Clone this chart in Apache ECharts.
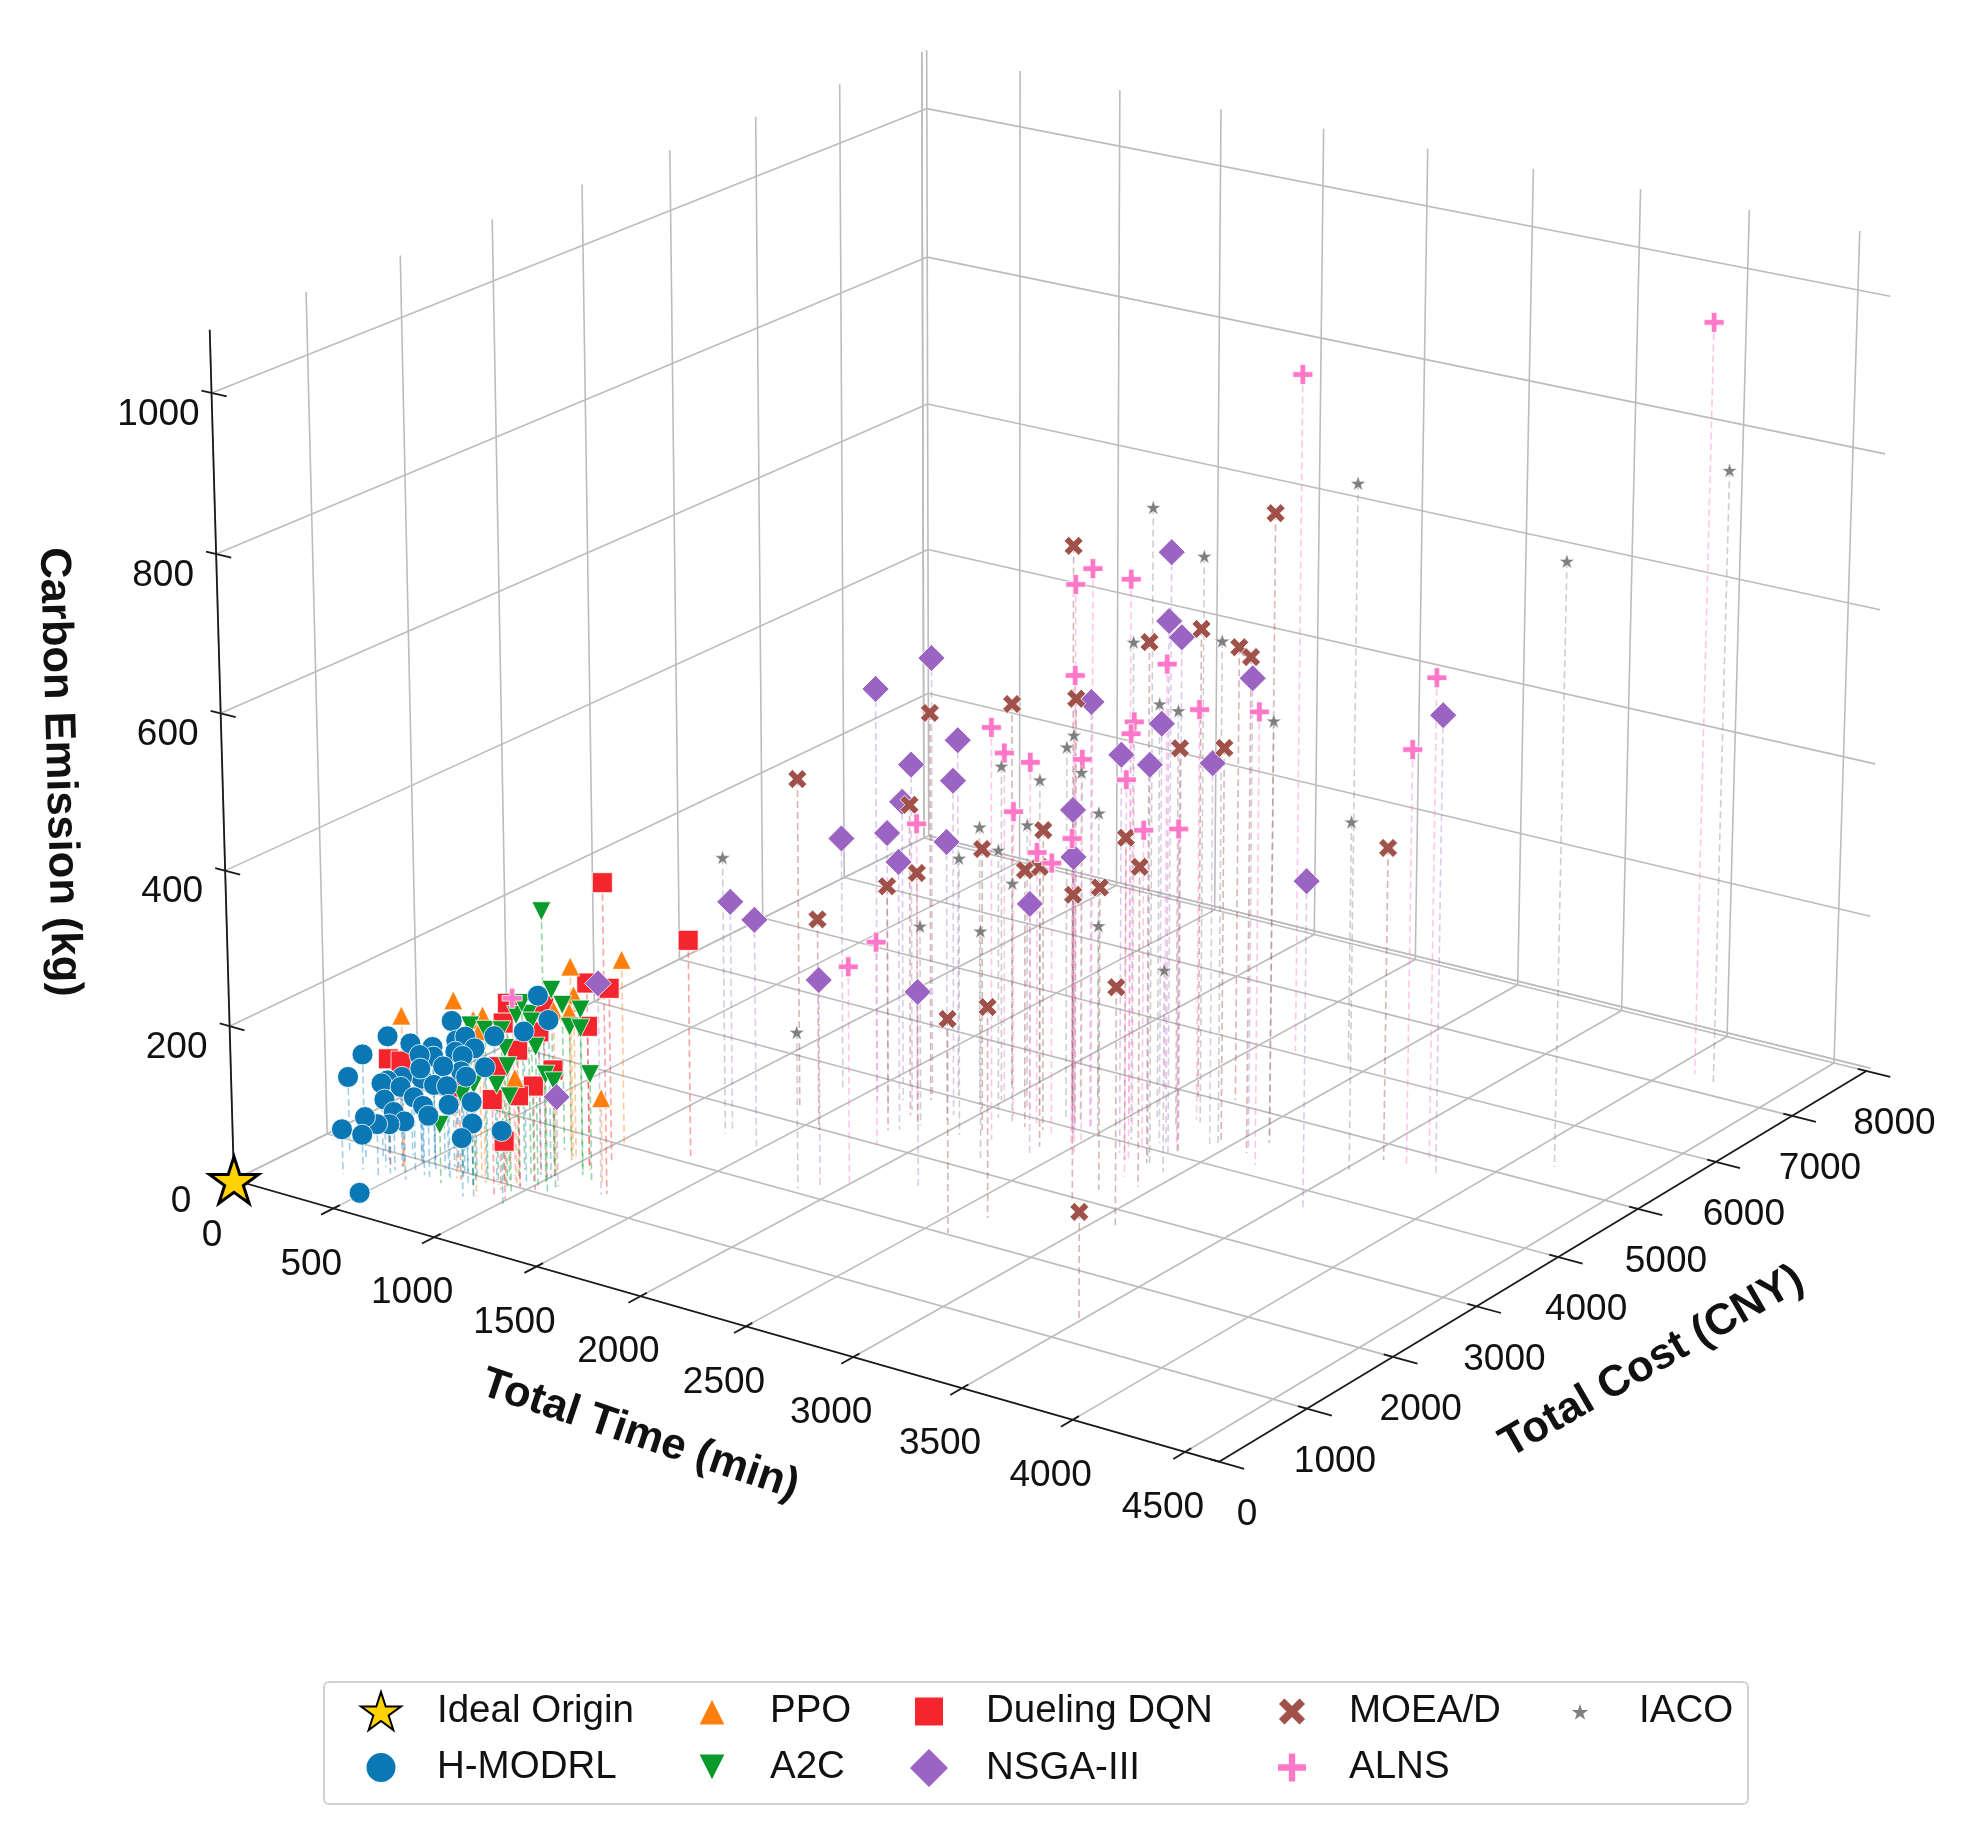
<!DOCTYPE html>
<html>
<head>
<meta charset="utf-8">
<style>html,body{margin:0;padding:0;background:#fff}#chart{width:1986px;height:1828px}</style>
<script src="https://cdn.jsdelivr.net/npm/echarts@6/dist/echarts.min.js"></script>
</head>
<body>
<div id="chart"></div>
<script>
// Solutions as [total time (min), total cost (CNY), carbon emission (kg)]
const idealOrigin = [[0,0,0]];
const hModrl = [[310,510,58],[190,840,98],[195,990,119],[310,1020,149],[415,1040,146],[540,1010,152],[625,1040,190],[660,1010,169],
[710,1000,178],[845,1020,187],[955,1260,233],[1010,1250,206],[960,1090,197],[760,990,167],[645,1030,152],[690,1010,151],
[520,1060,135],[465,1030,135],[805,1000,145],[695,980,133],[525,920,115],[440,890,113],[370,880,104],[340,880,98],
[455,840,104],[615,960,135],[500,960,124],[595,900,113],[660,900,116],[775,860,139],[405,770,88],[530,820,97],
[580,810,90],[685,860,96],[800,860,108],[610,800,80],[455,760,76],[550,670,76],[460,700,64],[455,580,71],
[295,790,56],[350,640,46],[875,700,95],[840,660,76],[1020,700,96],[520,240,7]];
const ppo = [[495,780,203],[705,890,231],[885,710,229],[830,930,218],[945,1640,248],[1025,2030,240],[955,1650,211],[950,1610,191],
[930,1050,137],[1205,1380,111],[775,1010,189],[995,1340,212]];
const a2c = [[1025,1160,352],[945,1430,230],[875,1700,190],[1060,1490,209],[960,1590,174],[1090,1420,191],[905,1130,212],[915,1240,208],
[975,1140,208],[870,1270,217],[800,860,207],[805,1010,193],[890,1000,199],[920,970,180],[1040,1040,186],[885,1070,148],
[880,960,130],[975,890,126],[1100,1010,156],[1095,1110,141],[1170,1340,142],[775,940,124],[715,940,106],[685,760,76]];
const duelingDqn = [[1285,1250,401],[1345,2050,286],[1080,1520,243],[1100,1720,226],[785,1300,209],[1005,1210,227],[895,1010,208],[925,1330,180],
[1080,1520,187],[960,1020,177],[420,790,141],[460,840,138],[920,900,160],[1010,1290,139],[1030,1030,135],[940,780,126],
[960,1020,118],[730,880,121],[995,780,76]];
const nsga3 = [[2840,4010,771],[2775,4150,673],[2870,4060,663],[3065,4410,605],[2455,4040,556],[2755,4120,543],[2685,3820,515],[2815,3830,510],
[2940,4260,497],[2365,4050,411],[2440,3870,365],[2395,3470,324],[3595,3700,421],[3825,4720,590],[1730,3940,572],[1580,3650,538],
[1815,4040,466],[1755,3640,452],[1920,3730,437],[1665,3750,392],[1405,3660,332],[1675,3550,363],[1930,3630,364],[1835,3300,350],
[1295,2640,299],[1495,2450,300],[1925,2170,268],[2255,2510,256],[1270,1220,273],[1085,1160,117]];
const moead = [[3110,4550,809],[2260,4310,729],[2830,3780,669],[2610,4960,611],[2750,5060,591],[3095,4310,639],[2375,4060,554],[1930,4400,501],
[1755,3860,507],[1370,3240,430],[1780,3560,406],[2865,4060,522],[2955,4360,512],[2300,3860,391],[2740,3740,417],[2105,3620,367],
[2940,3400,412],[2225,3830,336],[2390,3600,364],[1865,3440,330],[1800,3250,319],[2830,3210,389],[2805,2960,392],[1575,2980,276],
[2640,2380,271],[2600,2020,274],[3100,2730,308],[3575,4740,404],[3505,1300,139]];
const alns = [[4105,7270,975],[2660,6040,886],[3720,4920,620],[3685,4730,537],[2440,4090,722],[2540,3640,731],[2755,3750,745],[2460,4930,558],
[2430,3910,595],[2590,4210,530],[2480,4450,495],[2740,4610,534],[3190,4170,583],[2840,3490,511],[2485,3860,494],[2140,4100,455],
[1995,4150,455],[2195,3510,535],[2145,3890,403],[1710,3810,363],[2510,3680,404],[2740,3950,415],[2810,4190,408],[2250,3910,356],
[2345,3850,352],[1855,2990,265],[1995,2340,280],[905,1090,236]];
const iaco = [[4220,7190,798],[4160,5300,774],[3520,4460,875],[2885,6120,316],[2840,3790,838],[2765,4590,732],[2645,4060,643],[2945,4350,648],
[2595,4500,538],[2715,4420,541],[3065,4670,537],[2280,4270,490],[2315,4100,486],[2365,4150,454],[1985,4140,438],[2170,4140,432],
[2300,4520,377],[1290,2570,360],[1945,3980,365],[2130,4090,374],[2085,3860,351],[2060,3460,361],[2160,3840,314],[2520,3970,276],
[1875,3450,261],[2290,3150,300],[2935,3710,262],[1860,2070,202]];

// Axis ticks and limits
const timeTicks = [0,500,1000,1500,2000,2500,3000,3500,4000,4500];
const costTicks = [0,1000,2000,3000,4000,5000,6000,7000,8000];
const carbonTicks = [0,200,400,600,800,1000];
const timeMax = 4650, costMax = 8060, carbonMax = 1078;

// Perspective camera: world (time, cost, carbon) to page pixels
function project(t, c, z) {
  const u = t / 4500, v = c / 8000, w = z / 1000;
  const W = 1 - 0.06709 * u + 0.0929 * v - 0.0285 * w;
  return [
    (871.5 * u + 775.84 * v - 28.5 * w + 234) / W,
    (174.54 * u - 264.15 * v - 798.2 * w + 1180) / W
  ];
}
const seg = (a, b) => project(...a).concat(project(...b));

// Panes and grid
const gridSegments = [];
timeTicks.forEach(t => {
  gridSegments.push(seg([t,0,0],[t,8000,0]), seg([t,8000,0],[t,8000,carbonMax]));
});
costTicks.forEach(c => {
  gridSegments.push(seg([0,c,0],[timeMax,c,0]), seg([0,c,0],[0,c,carbonMax]));
});
carbonTicks.forEach(z => {
  gridSegments.push(seg([0,0,z],[0,costMax,z]), seg([0,costMax,z],[timeMax - 25,costMax,z]));
});
gridSegments.push(seg([0,costMax,0],[timeMax,costMax,0]), seg([0,costMax,0],[0,costMax,carbonMax]));

// Axis lines and tick marks
const axisSegments = [
  seg([0,0,0],[timeMax,0,0]), seg([timeMax,0,0],[timeMax,8000,0]), seg([0,0,0],[0,0,carbonMax])
];
timeTicks.slice(1).forEach(t => axisSegments.push(seg([t,-130,0],[t,70,0])));
costTicks.forEach(c => axisSegments.push(seg([timeMax-40,c,0],[timeMax+110,c,0])));
carbonTicks.slice(1).forEach(z => axisSegments.push(seg([-50,0,z],[75,0,z])));

// Tick labels sit at a fixed page offset from their tick
const tickFont = '37px "Liberation Sans", Arial, sans-serif';
const titleFont = 'bold 43.5px "Liberation Sans", Arial, sans-serif';
const offset = (p, dx, dy) => [p[0] + dx, p[1] + dy];
const textItems = [];
timeTicks.forEach(t => {
  const p = offset(project(t,0,0), -22, 56);
  textItems.push({x:p[0], y:p[1], text:String(t), font:tickFont, rotation:0});
});
costTicks.forEach(c => {
  const p = offset(project(timeMax,c,0), 28, 53);
  textItems.push({x:p[0], y:p[1], text:String(c), font:tickFont, rotation:0});
});
carbonTicks.forEach(z => {
  const p = offset(project(0,0,z), -53, 21.5);
  textItems.push({x:p[0], y:p[1], text:String(z), font:tickFont, rotation:0});
});
textItems.push(
  {x:640, y:1435, text:'Total Time (min)', font:titleFont, rotation:-18.5*Math.PI/180},
  {x:1652, y:1362, text:'Total Cost (CNY)', font:titleFont, rotation:30*Math.PI/180},
  {x:59, y:772, text:'Carbon Emission (kg)', font:titleFont, rotation:-88.4*Math.PI/180}
);

// Marker outlines that the library has no built-in symbol for
const starPath = 'path://M50 0L61.2 34.5L97.6 34.5L68.2 55.9L79.4 90.5L50 69.1L20.6 90.5L31.8 55.9L2.4 34.5L38.8 34.5Z';
const crossPath = 'path://M2.4 0L5 2.6L7.6 0L10 2.4L7.4 5L10 7.6L7.6 10L5 7.4L2.4 10L0 7.6L2.6 5L0 2.4Z';
const plusPath = 'path://M3.6 0H6.4V3.6H10V6.4H6.4V10H3.6V6.4H0V3.6H3.6Z';
const downPath = 'path://M0 0H10L5 10Z';

// Methods in drawing order, lowest first
const methods = [
  {name:'Dueling DQN', data:duelingDqn, color:'#F5252D', symbol:'rect', size:20, dropOpacity:0.42},
  {name:'PPO', data:ppo, color:'#FF7F0E', symbol:'triangle', size:19, dropOpacity:0.42},
  {name:'A2C', data:a2c, color:'#0A9A2B', symbol:downPath, size:19, dropOpacity:0.42},
  {name:'NSGA-III', data:nsga3, color:'#9C64C2', symbol:'diamond', size:27, dropOpacity:0.34},
  {name:'MOEA/D', data:moead, color:'#A0524A', symbol:crossPath, size:19, dropOpacity:0.42},
  {name:'ALNS', data:alns, color:'#FF78C8', symbol:plusPath, size:20, dropOpacity:0.42},
  {name:'IACO', data:iaco, color:'#7F7F7F', symbol:starPath, size:15, borderWidth:0.4, dropOpacity:0.38},
  {name:'H-MODRL', data:hModrl, color:'#0A78B4', symbol:'circle', size:21, dropOpacity:0.38},
  {name:'Ideal Origin', data:idealOrigin, color:'#FFD200', symbol:starPath, size:49, borderColor:'#000', borderWidth:3}
];

function lineRenderer(style) {
  return function (params, api) {
    const a = api.coord([api.value(0), api.value(1)]);
    const b = api.coord([api.value(2), api.value(3)]);
    return {type:'line', shape:{x1:a[0], y1:a[1], x2:b[0], y2:b[1]}, style:style, silent:true};
  };
}
const segmentSeries = (data, style, z) => ({
  type:'custom', coordinateSystem:'cartesian2d', clip:false, silent:true, z:z,
  encode:{x:[0,2], y:[1,3]}, data:data, renderItem:lineRenderer(style)
});

const series = [
  segmentSeries(gridSegments, {stroke:'#bcbcbc', lineWidth:1.6}, 1),
  segmentSeries(axisSegments, {stroke:'#1a1a1a', lineWidth:1.8}, 2)
];
// Vertical drop lines from every solution to the floor
methods.forEach(m => {
  if (m.name === 'Ideal Origin') return;
  series.push(segmentSeries(
    m.data.map(v => seg(v, [v[0], v[1], 0])),
    {stroke:m.color, opacity:m.dropOpacity, lineWidth:1.6, lineDash:[7,4]}, 3
  ));
});
methods.forEach((m, i) => {
  series.push({
    type:'scatter', name:m.name, coordinateSystem:'cartesian2d', clip:false, silent:true,
    z:10 + i, symbol:m.symbol, symbolSize:m.size, symbolKeepAspect:true,
    itemStyle:{color:m.color, opacity:1, borderColor:m.borderColor || '#fff', borderWidth:m.borderWidth === undefined ? 0.8 : m.borderWidth},
    data:m.data.map(v => project(...v))
  });
});
series.push({
  type:'custom', coordinateSystem:'cartesian2d', clip:false, silent:true, z:30,
  data:textItems.map(d => [d.x, d.y]),
  renderItem(params, api) {
    const d = textItems[params.dataIndex];
    const p = api.coord([api.value(0), api.value(1)]);
    return {type:'text', x:p[0], y:p[1], rotation:d.rotation,
      style:{text:d.text, font:d.font, fill:'#111', align:'center', verticalAlign:'middle'}};
  }
});

// Legend cells: one small component per entry so the columns line up
const legendCells = [
  {name:'Ideal Origin', cx:380, cy:1711, textX:436, w:40, h:40},
  {name:'H-MODRL', cx:380, cy:1767, textX:436, w:31, h:31},
  {name:'PPO', cx:711, cy:1711, textX:769, w:28, h:28},
  {name:'A2C', cx:711, cy:1767, textX:769, w:28, h:28},
  {name:'Dueling DQN', cx:928, cy:1711, textX:985, w:30, h:30},
  {name:'NSGA-III', cx:928, cy:1767, textX:985, w:41, h:41},
  {name:'MOEA/D', cx:1291, cy:1711, textX:1348, w:29, h:29},
  {name:'ALNS', cx:1291, cy:1767, textX:1348, w:30, h:30},
  {name:'IACO', cx:1579, cy:1711, textX:1638, w:23, h:23}
];
const legend = legendCells.map(c => ({
  show:true, orient:'vertical', padding:0, selectedMode:false, data:[c.name],
  left:c.cx - c.w / 2, top:c.cy - Math.max(c.h, 38) / 2, itemWidth:c.w, itemHeight:c.h,
  textStyle:{fontFamily:'"Liberation Sans", Arial, sans-serif', fontSize:38.5, color:'#111',
    padding:[0,0,0,c.textX - (c.cx + c.w / 2) - 5]}
}));

const chart = echarts.init(document.getElementById('chart'), null, {renderer:'canvas', width:1986, height:1828});
chart.setOption({
  animation:false,
  backgroundColor:'#fff',
  tooltip:{show:false},
  grid:{left:0, right:0, top:0, bottom:0},
  xAxis:{type:'value', min:0, max:1986, show:false},
  yAxis:{type:'value', min:0, max:1828, inverse:true, show:false},
  legend:legend,
  graphic:[{type:'rect', z:0, silent:true,
    shape:{x:324, y:1682, width:1424, height:122, r:5},
    style:{fill:'#fff', stroke:'#d2d2d2', lineWidth:2}}],
  series:series
});
</script>
</body>
</html>
